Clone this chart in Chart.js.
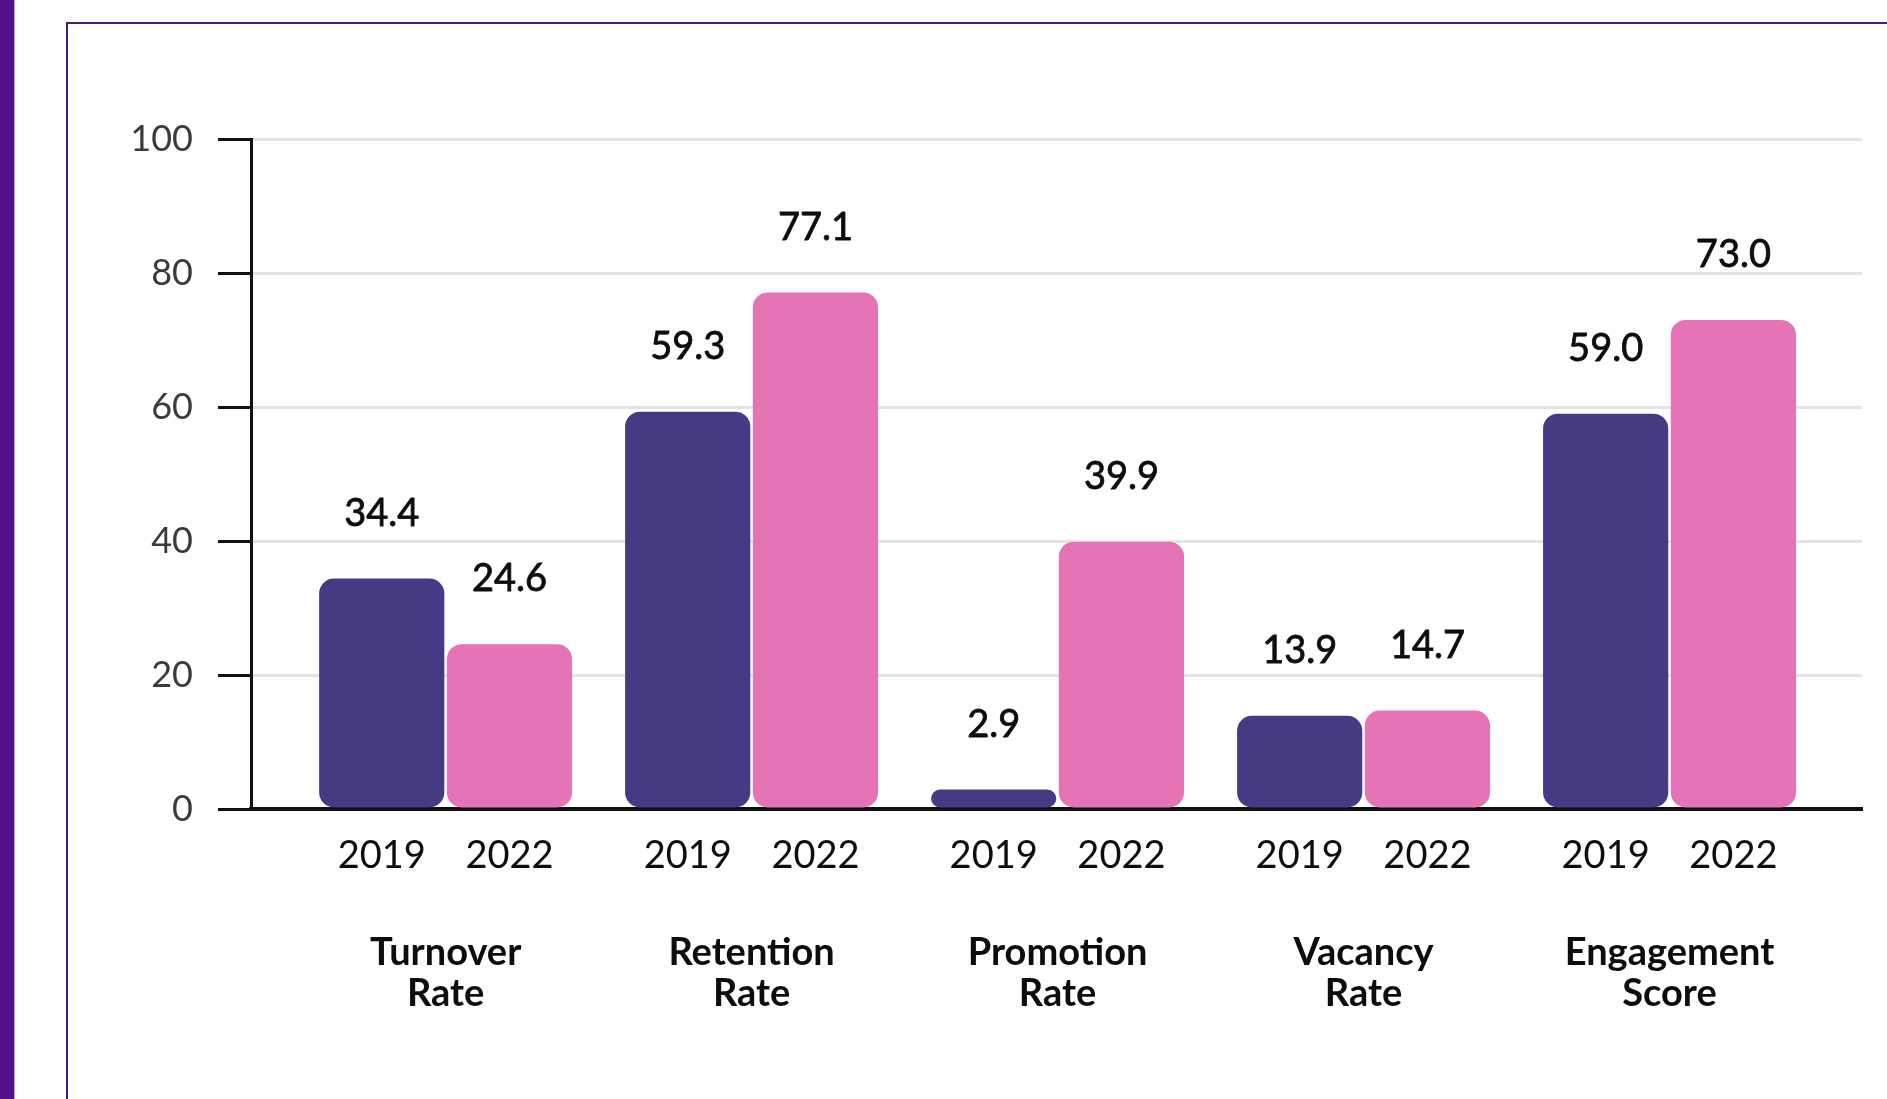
<!DOCTYPE html>
<html><head><meta charset="utf-8">
<script src="https://cdn.jsdelivr.net/npm/chart.js@4/dist/chart.umd.min.js"></script>
<style>
html,body{margin:0;padding:0;background:#fff;width:1887px;height:1099px;overflow:hidden;}
#strip{position:absolute;left:0;top:0;width:14px;height:1099px;background:#55118c;border-right:1px solid #bfa3dc;}
#frame{position:absolute;left:66px;top:22px;width:1900px;height:1200px;border:2px solid #4b1a7e;}
#wrap{position:absolute;left:0;top:0;width:1887px;height:1099px;}
</style></head>
<body>
<div id="strip"></div><div id="frame"></div>
<div id="wrap"><canvas id="c" width="1887" height="1099"></canvas></div>
<script>
const categories = [['Turnover','Rate'],['Retention','Rate'],['Promotion','Rate'],['Vacancy','Rate'],['Engagement','Score']];
const years = ['2019','2022'];
const values2019 = [34.4, 59.3, 2.9, 13.9, 59.0];
const values2022 = [24.6, 77.1, 39.9, 14.7, 73.0];
const yTickValues = [0, 20, 40, 60, 80, 100];

const CAT_PCT = 0.835, BAR_PCT = 0.98;
const X_MIN = -0.636, X_MAX = 4.629;

const valueLabels = {
  id: 'valueLabels',
  afterDatasetsDraw(chart) {
    const ctx = chart.ctx;
    ctx.save();
    ctx.font = '38px Lato';
    ctx.fillStyle = '#0d0d0d';
    ctx.strokeStyle = '#0d0d0d';
    ctx.lineWidth = 0.8;
    ctx.textAlign = 'center';
    ctx.textBaseline = 'middle';
    chart.data.datasets.forEach((ds, di) => {
      chart.getDatasetMeta(di).data.forEach((el, i) => {
        const t = ds.data[i].y.toFixed(1);
        ctx.fillText(t, el.x, el.y - 65);
        ctx.strokeText(t, el.x, el.y - 65);
      });
    });
    ctx.restore();
  }
};

new Chart(document.getElementById('c'), {
  type: 'bar',
  data: {
    datasets: [
      { label: years[0], data: values2019.map((v, i) => ({x: i, y: v})), backgroundColor: '#463a85', borderRadius: 15, borderSkipped: false },
      { label: years[1], data: values2022.map((v, i) => ({x: i, y: v})), backgroundColor: '#e574b6', borderRadius: 15, borderSkipped: false }
    ]
  },
  options: {
    responsive: false,
    animation: false,
    devicePixelRatio: 1,
    categoryPercentage: CAT_PCT,
    barPercentage: BAR_PCT,
    layout: { padding: { top: 139, right: 25, left: 0, bottom: 40 } },
    plugins: { legend: { display: false }, tooltip: { enabled: false } },
    scales: {
      x: {
        type: 'linear', position: 'bottom', weight: 1, offset: false,
        min: X_MIN, max: X_MAX,
        afterBuildTicks: (s) => { s.ticks = categories.map((_, i) => ({value: i})); },
        afterFit: (s) => { s.height = 150; },
        grid: { display: false, drawTicks: false, offset: false },
        border: { display: false },
        ticks: {
          autoSkip: false, maxRotation: 0, padding: 23,
          font: { family: 'Lato', size: 38, weight: 'bold', lineHeight: 1.08 },
          color: '#0d0d0d',
          callback: (v, i) => categories[i]
        }
      },
      yrs: {
        type: 'linear', position: 'bottom', weight: 0, offset: false,
        min: X_MIN, max: X_MAX,
        afterBuildTicks: (s) => {
          const t = [];
          categories.forEach((_, i) => { t.push({value: i - CAT_PCT / 4}); t.push({value: i + CAT_PCT / 4}); });
          s.ticks = t;
        },
        afterFit: (s) => { s.height = 100; },
        grid: { display: false, drawTicks: false, offset: false },
        border: { display: true, color: '#111', width: 4 },
        ticks: {
          autoSkip: false, maxRotation: 0, padding: 24,
          font: { family: 'Lato', size: 38, lineHeight: 1.2 },
          color: '#0d0d0d',
          callback: (v, i) => years[i % 2]
        }
      },
      y: {
        min: 0, max: 100,
        afterBuildTicks: (s) => { s.ticks = yTickValues.map(v => ({value: v})); },
        afterFit: (s) => { s.width = 251; },
        grid: { color: '#e3e3e3', lineWidth: 3, tickColor: '#111', tickWidth: 3, tickLength: 33 },
        border: { display: true, color: '#111', width: 3 },
        ticks: {
          padding: 25,
          font: { family: 'Lato', size: 36 },
          color: '#3a3a3a'
        }
      }
    }
  },
  plugins: [valueLabels]
});
</script>
</body></html>
